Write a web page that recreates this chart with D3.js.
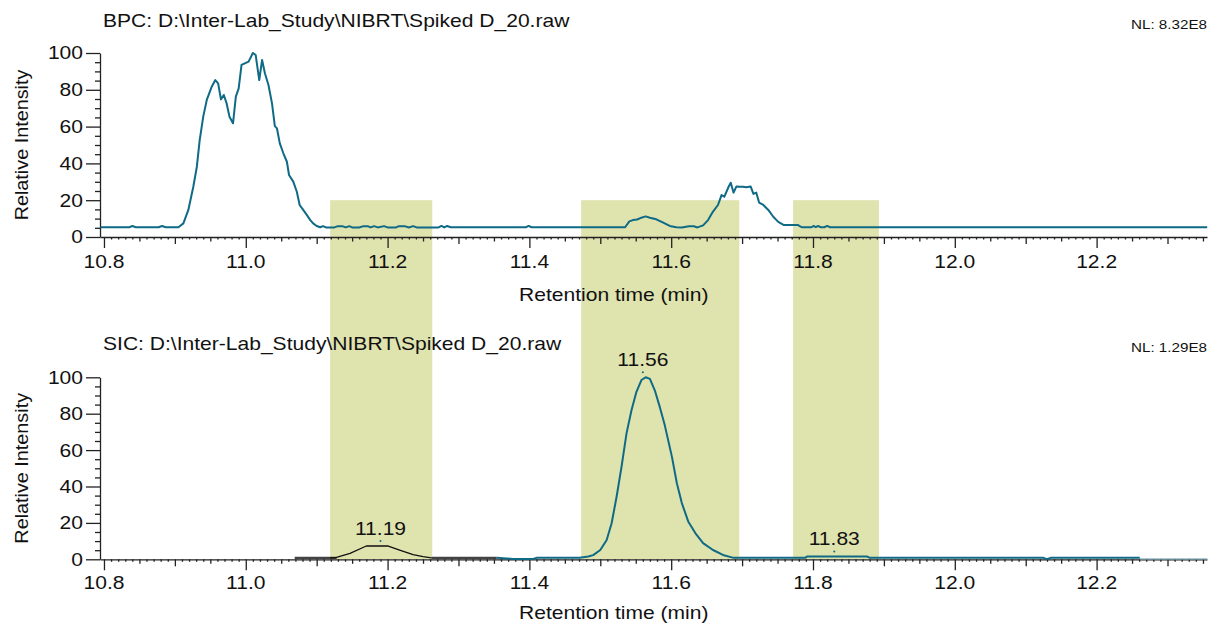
<!DOCTYPE html>
<html>
<head>
<meta charset="utf-8">
<title>BPC / SIC chromatogram</title>
<script src="https://d3js.org/d3.v7.min.js"></script>
<style>
    body { margin: 0; background: #fff; }
    svg text { font-family: "Liberation Sans", Arial, Helvetica, sans-serif; fill: #111; }
    .axis path, .axis line { stroke: #222; stroke-width: 1.3; }
</style>
</head>
<body>
<div id="chart"></div>
<script>
    // Base peak chromatogram (BPC), retention time in min / relative intensity in %
    const bpcTime = [
        10.795, 10.836, 10.840, 10.845, 10.877, 10.882, 10.887, 10.905,
        10.912, 10.919, 10.926, 10.931, 10.935, 10.940, 10.945, 10.952, 10.957, 10.961,
        10.965, 10.969, 10.973, 10.977, 10.982, 10.986, 10.990, 10.994, 11.004, 11.010,
        11.014, 11.019, 11.023, 11.027, 11.032, 11.037, 11.041, 11.044, 11.048, 11.053,
        11.058, 11.061, 11.067, 11.072, 11.076, 11.081, 11.086, 11.091, 11.095, 11.100,
        11.105, 11.109, 11.113, 11.125, 11.130, 11.136, 11.141, 11.146, 11.150, 11.160,
        11.166, 11.172, 11.176, 11.181, 11.186, 11.195, 11.200, 11.212, 11.216, 11.224,
        11.230, 11.236, 11.241, 11.262, 11.272, 11.276, 11.280, 11.284, 11.289, 11.395,
        11.399, 11.403, 11.535, 11.541, 11.546, 11.552, 11.558, 11.564, 11.570, 11.579,
        11.588, 11.598, 11.607, 11.615, 11.625, 11.632, 11.637, 11.645, 11.652, 11.659,
        11.666, 11.671, 11.675, 11.681, 11.684, 11.688, 11.692, 11.697, 11.701, 11.706,
        11.712, 11.716, 11.720, 11.724, 11.730, 11.737, 11.744, 11.751, 11.759, 11.779,
        11.784, 11.798, 11.801, 11.804, 11.807, 11.811, 11.816, 11.820, 11.824, 12.356
    ];
    const bpcIntensity = [
        5.3, 5.3, 6.0, 5.3, 5.3, 6.0, 5.3, 5.3,
        7.4, 14.7, 27.3, 38.2, 52.7, 65.4, 74.5, 81.7, 85.3, 83.5,
        74.8, 77.2, 72.6, 65.4, 61.8, 76.3, 80.8, 93.5, 95.3, 100,
        98.9, 85.3, 96.2, 89.0, 82.6, 72.6, 60.3, 59.0, 50.9, 45.5,
        40.9, 33.7, 30.1, 24.6, 17.4, 14.7, 12.0, 9.2, 7.4, 6.0,
        5.3, 5.9, 5.2, 5.2, 5.9, 5.9, 5.2, 5.9, 5.2, 5.2,
        5.9, 5.9, 5.2, 5.9, 5.2, 5.9, 5.2, 5.2, 5.9, 5.9,
        5.2, 5.9, 5.2, 5.2, 5.2, 6.0, 5.2, 6.0, 5.3, 5.3,
        6.0, 5.3, 5.3, 8.5, 9.2, 9.5, 10.5, 11.2, 10.5, 9.6,
        7.9, 6.0, 5.3, 5.2, 5.8, 5.8, 5.2, 6.3, 9.2, 13.8,
        17.4, 22.8, 21.9, 27.3, 29.5, 24.1, 27.5, 27.3, 27.3, 27.0,
        27.5, 23.4, 24.1, 18.7, 17.4, 14.7, 11.0, 8.2, 6.5, 6.5,
        5.3, 5.3, 6.0, 5.3, 6.0, 5.3, 5.3, 6.0, 5.3, 5.3
    ];

    // Selected ion chromatogram (SIC), drawn in pieces like the instrument software
    const sicLeadTime = [11.069, 11.128];
    const sicLeadIntensity = [0.8, 0.8];
    const sicMinorTime = [11.119, 11.128, 11.147, 11.170, 11.201, 11.217, 11.236, 11.250, 11.262];
    const sicMinorIntensity = [0.8, 1.0, 3.3, 7.3, 7.3, 5.1, 2.6, 1.5, 0.8];
    const sicGapTime = [11.262, 11.354];
    const sicGapIntensity = [0.8, 0.8];
    const sicMainTime = [
        11.354, 11.377, 11.405, 11.410, 11.471, 11.483, 11.490, 11.500, 11.509, 11.516,
        11.523, 11.530, 11.537, 11.544, 11.551, 11.558, 11.564, 11.570, 11.577, 11.584,
        11.591, 11.601, 11.608, 11.615, 11.624, 11.634, 11.645, 11.659, 11.673, 11.688,
        11.789, 11.792, 11.876, 11.880, 12.125, 12.130, 12.135, 12.261
    ];
    const sicMainIntensity = [
        0.8, 0.2, 0.2, 0.8, 0.8, 1.5, 2.3, 5.1, 10.6, 19.8,
        34.4, 50.9, 69.2, 81.9, 92.0, 98.5, 100, 99.1, 92.7, 83.6,
        73.6, 56.4, 41.8, 30.9, 20.8, 14.4, 8.9, 5.1, 2.4, 0.8,
        0.8, 1.6, 1.6, 0.8, 0.8, 0.1, 0.8, 0.8
    ];
    const sicTailTime = [12.261, 12.356];
    const sicTailIntensity = [0.2, 0.2];

    // Labelled SIC apexes
    const apexTime = [11.19, 11.56, 11.83];
    const apexIntensity = [7.3, 100, 1.6];
    const apexLabel = ["11.19", "11.56", "11.83"];

    // Highlighted retention windows (min)
    const bandStart = [11.119, 11.473, 11.772];
    const bandEnd = [11.263, 11.696, 11.893];
    const bandTopIntensity = 20;

    const xTickLabels = ["10.8", "11.0", "11.2", "11.4", "11.6", "11.8", "12.0", "12.2"];
    const yTickLabels = [0, 20, 40, 60, 80, 100];

    const width = 1217, height = 626;
    const lineColor = "#0f6a86";
    const bandColor = "#dfe3ae";
    const fontSize = 18;
    const stretch = 1.17;   // the source font is wider than Liberation Sans

    const svg = d3.select("#chart").append("svg")
        .attr("width", width)
        .attr("height", height);

    const x = d3.scaleLinear().domain([10.7944, 12.3557]).range([100, 1207]);
    const yTop = d3.scaleLinear().domain([0, 100]).range([237, 53]);
    const yBot = d3.scaleLinear().domain([0, 100]).range([559.3, 377.3]);

    // text placed at (px, py), stretched horizontally
    function label(parent, px, py, str, opts) {
        opts = opts || {};
        const g = parent.append("g")
            .attr("transform", `translate(${px},${py})` + (opts.rotate ? " rotate(-90)" : "") +
                ` scale(${opts.stretch || stretch},1)`);
        return g.append("text")
            .attr("text-anchor", opts.anchor || "start")
            .attr("dy", opts.dy || null)
            .attr("font-size", opts.size || fontSize)
            .text(str);
    }

    // Bands run from 20 % in the BPC down to the SIC baseline
    svg.append("g").selectAll("rect")
        .data(bandStart)
        .join("rect")
        .attr("x", (d, i) => x(d))
        .attr("width", (d, i) => x(bandEnd[i]) - x(d))
        .attr("y", yTop(bandTopIntensity))
        .attr("height", yBot(0) - yTop(bandTopIntensity))
        .attr("fill", bandColor);

    function drawAxes(y, tickLabelY, titleY) {
        const g = svg.append("g");

        // x axis: 0.01 minor, 0.05 medium, 0.1 major, labels every 0.2
        const allTicks = x.ticks(160).filter(t => t >= 10.795);
        const kind = t => {
            const k = Math.round(t * 100);
            if (k % 20 === 0) return 11;
            if (k % 10 === 0) return 7;
            if (k % 5 === 0) return 4.5;
            return 2.5;
        };
        const xa = g.append("g").attr("class", "axis")
            .attr("transform", `translate(0,${y(0)})`)
            .call(d3.axisBottom(x).tickValues(allTicks).tickSizeOuter(0).tickFormat(""));
        xa.selectAll(".tick line").attr("y2", d => kind(d));
        xa.select(".domain").attr("stroke-width", 1.5);

        xTickLabels.forEach(d => label(g, x(+d), tickLabelY, d, { anchor: "middle" }));
        label(g, x(11.519), titleY, "Retention time (min)", { anchor: "middle" });

        // y axis: labels every 20, minor every 5
        const ya = g.append("g").attr("class", "axis")
            .attr("transform", `translate(${x.range()[0]},0)`)
            .call(d3.axisLeft(y).tickValues(d3.range(0, 101, 5)).tickSizeOuter(0).tickFormat(""));
        ya.selectAll(".tick line").attr("x2", d => d % 20 === 0 ? -14 : -5);

        yTickLabels.forEach(d => label(g, 83, y(d), d, { anchor: "end", dy: "0.36em" }));

        const mid = (y(0) + y(100)) / 2;
        label(g, 28, mid, "Relative Intensity", { anchor: "middle", rotate: true, stretch: 1.1 });
    }

    function trace(times, values, y, color, w) {
        const line = d3.line()
            .x(i => x(times[i]))
            .y(i => y(values[i]));
        svg.append("path")
            .attr("d", line(d3.range(times.length)))
            .attr("fill", "none")
            .attr("stroke", color)
            .attr("stroke-width", w)
            .attr("stroke-linejoin", "round");
    }

    // ---- BPC panel
    drawAxes(yTop, 268, 301);
    trace(bpcTime, bpcIntensity, yTop, lineColor, 2);

    label(svg, 103, 27, "BPC: D:\\Inter-Lab_Study\\NIBRT\\Spiked D_20.raw");
    label(svg, 1207, 29, "NL: 8.32E8", { anchor: "end", size: 13 });

    // ---- SIC panel
    drawAxes(yBot, 589, 619);
    trace(sicLeadTime, sicLeadIntensity, yBot, "#444", 2.2);
    trace(sicGapTime, sicGapIntensity, yBot, "#444", 2.2);
    trace(sicMinorTime, sicMinorIntensity, yBot, "#111", 1.3);
    trace(sicMainTime, sicMainIntensity, yBot, lineColor, 2);
    trace(sicTailTime, sicTailIntensity, yBot, "#8fb8c8", 1.3);

    label(svg, 103, 350, "SIC: D:\\Inter-Lab_Study\\NIBRT\\Spiked D_20.raw");
    label(svg, 1207, 352, "NL: 1.29E8", { anchor: "end", size: 13 });

    const apex = svg.append("g");
    apex.selectAll("circle")
        .data(apexTime)
        .join("circle")
        .attr("cx", d => x(d))
        .attr("cy", (d, i) => yBot(apexIntensity[i]) - 5)
        .attr("r", 1)
        .attr("fill", lineColor);
    apexTime.forEach((d, i) =>
        label(apex, x(d), yBot(apexIntensity[i]) - 11, apexLabel[i], { anchor: "middle" }));
</script>
</body>
</html>
